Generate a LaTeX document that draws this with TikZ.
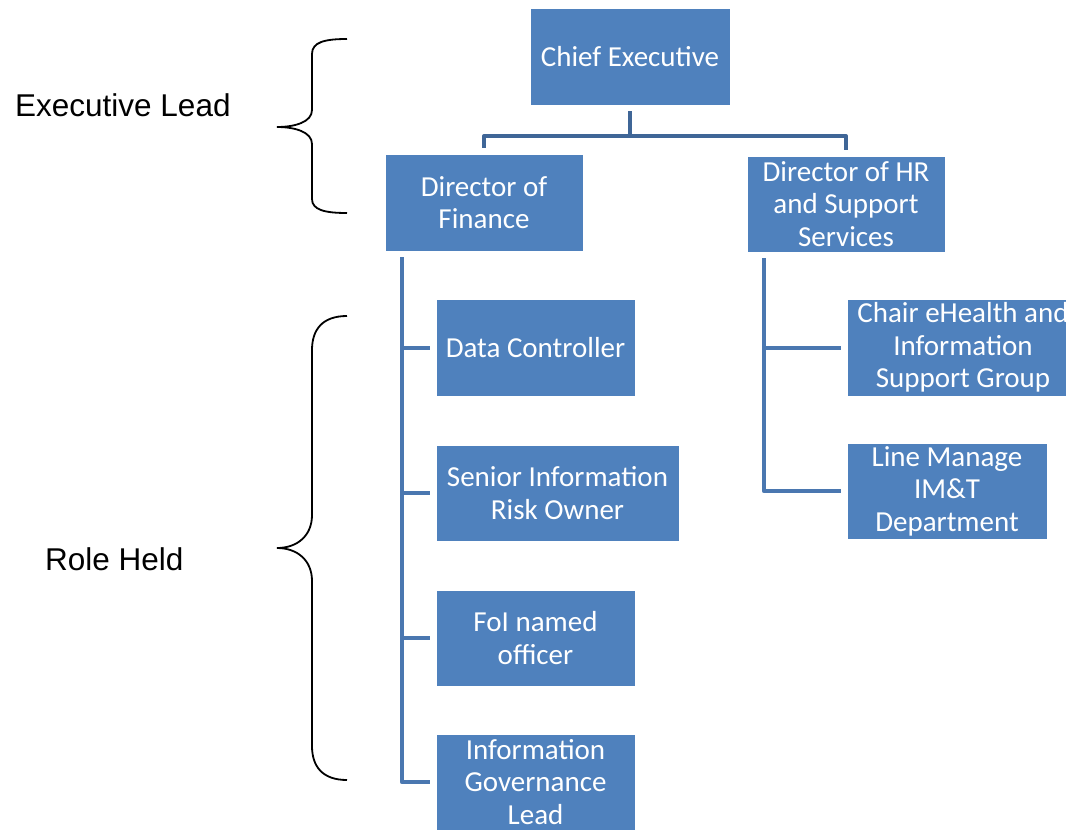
\documentclass[tikz,border=0pt]{standalone}
\usepackage{fontspec}
\setmainfont{Carlito}
\newfontfamily\arialf{Liberation Sans}
\begin{document}
\begin{tikzpicture}[x=1pt,y=-1pt,
  orgbox/.style={fill=boxblue, draw=white, line width=0.6pt, inner sep=0pt, align=center, text=white,
     font=\fontsize{29}{32.5}\selectfont},
  topline/.style={draw=topblue, line width=4pt},
  subline/.style={draw=subblue, line width=4pt},
  brace/.style={draw=black, line width=1.8pt},
  sidelabel/.style={font=\arialf\fontsize{31.5}{35}\selectfont, anchor=base west, inner sep=0pt}]
\definecolor{boxblue}{HTML}{4F81BD}
\definecolor{topblue}{HTML}{3F6697}
\definecolor{subblue}{HTML}{4A77B0}
\useasboundingbox (0,0) rectangle (1066,830);
\clip (0,0) rectangle (1066,830);
\fill[white] (0,0) rectangle (1066,830);

% boxes
\node[orgbox, minimum width=200pt, minimum height=97pt] (chief) at (630,56.5) {Chief Executive};
\node[orgbox, minimum width=198pt, minimum height=97pt] (fin) at (484,202.5) {Director of\\Finance};
\node[orgbox, minimum width=198pt, minimum height=96pt] (hr) at (846,204) {Director of HR\\and Support\\Services};
\node[orgbox, minimum width=199pt, minimum height=97pt] (dc) at (535.5,347.5) {Data Controller};
\node[orgbox, minimum width=243pt, minimum height=96pt] (siro) at (557.5,493) {Senior Information\\Risk Owner};
\node[orgbox, minimum width=199pt, minimum height=96pt] (foi) at (535.5,638) {FoI named\\officer};
\node[orgbox, minimum width=199pt, minimum height=96pt] (ig) at (535.5,782) {Information\\Governance\\Lead};
\node[orgbox, minimum width=232pt, minimum height=97pt] (chair) at (963,347.5) {Chair eHealth and\\Information\\Support Group};
\node[orgbox, minimum width=200pt, minimum height=96pt] (lm) at (947,491) {Line Manage\\IM\&T\\Department};

% top connectors
\draw[topline] ([yshift=-6pt]chief.south) -- ++(0,25) coordinate (j);
\draw[topline, line join=round] ([yshift=6pt]fin.north) |- (j) -| ([yshift=6pt]hr.north);

% finance branch
\coordinate (fv) at ([xshift=17pt,yshift=-6pt]fin.south west);
\draw[subline, line join=round] (fv) |- ([xshift=-6pt]ig.west);
\foreach \n in {dc,siro,foi}{
  \draw[subline] (fv |- \n.west) -- ([xshift=-6pt]\n.west);
}
% HR branch
\coordinate (hv) at ([xshift=17pt,yshift=-6pt]hr.south west);
\draw[subline, line join=round] (hv) |- ([xshift=-6pt]lm.west);
\draw[subline] (hv |- chair.west) -- ([xshift=-6pt]chair.west);

% braces
\draw[brace] (347,39) .. controls (325,39) and (312,42) .. (312,54) -- (312,110)
  .. controls (312,122) and (295,127) .. (277,127)
  .. controls (295,127) and (312,132) .. (312,144) -- (312,199)
  .. controls (312,210) and (325,213) .. (347,213);
\draw[brace] (347,316) .. controls (322,316) and (312,330) .. (312,350) -- (312,515)
  .. controls (312,536) and (297,548) .. (277,548)
  .. controls (297,548) and (312,560) .. (312,581) -- (312,746)
  .. controls (312,766) and (322,780) .. (347,780);

% labels
\node[sidelabel] (exec) at (15,116) {Executive Lead};
\node[sidelabel] (role) at (45,570) {Role Held};
\end{tikzpicture}
\end{document}
